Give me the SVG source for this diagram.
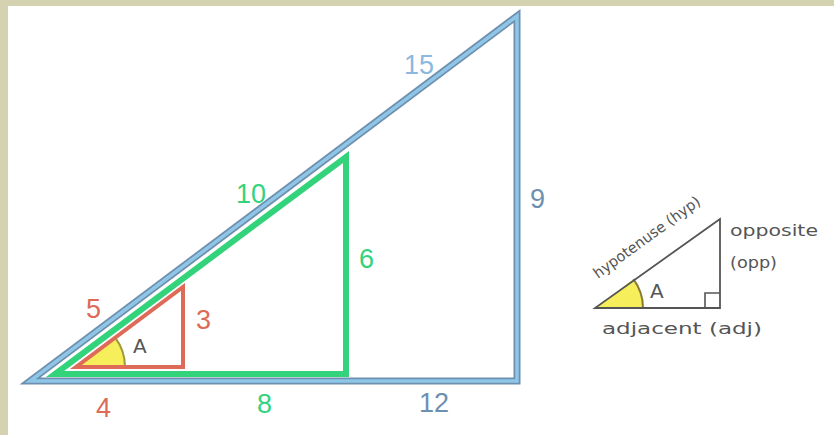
<svg xmlns="http://www.w3.org/2000/svg" width="834" height="435" viewBox="0 0 834 435">
<style>
.num{font-family:"Liberation Sans","DejaVu Sans",sans-serif;font-size:27px}
.lbl{font-family:"DejaVu Sans","Liberation Sans",sans-serif;fill:#555}
.red{fill:#de6a58}.grn{fill:#33d37c}.blu{fill:#8ab8de}.bl2{fill:#6d8fb0}
</style>
<rect x="0" y="0" width="834" height="435" fill="#ffffff"/>
<rect x="0" y="0" width="834" height="6" fill="#d4d2b0"/>
<rect x="0" y="0" width="8" height="435" fill="#d4d2b0"/>
<g id="blue-triangle">
<polygon points="30,381 517,381 517,16" fill="none" stroke="#6f8fae" stroke-width="7" stroke-linejoin="miter"/>
<polygon points="30,381 517,381 517,16" fill="none" stroke="#8ec6e8" stroke-width="3.5" stroke-linejoin="miter"/>
</g>
<g id="green-triangle">
<polygon points="55,374 346,374 346,157" fill="none" stroke="#33d37c" stroke-width="6" stroke-linejoin="miter"/>
</g>
<g id="red-triangle">
<path d="M76,367 L125,367 A49,49 0 0 0 115.2,337.6 Z" fill="#f6ee5a"/>
<path d="M125,367 A49,49 0 0 0 115.2,337.6" fill="none" stroke="#9c9a3c" stroke-width="2"/>
<polygon points="76,367 183,367 183,287" fill="none" stroke="#de6a58" stroke-width="4" stroke-linejoin="miter"/>
<text x="133" y="353" class="lbl" font-size="20">A</text>
</g>
<g id="labels">
<text x="86" y="318" class="num red">5</text>
<text x="196" y="329" class="num red">3</text>
<text x="96" y="417" class="num red">4</text>
<text x="236" y="203" class="num grn">10</text>
<text x="359" y="268" class="num grn">6</text>
<text x="257" y="413" class="num grn">8</text>
<text x="404" y="74" class="num blu">15</text>
<text x="530" y="208" class="num bl2">9</text>
<text x="419" y="412" class="num bl2">12</text>
</g>
<g id="small-triangle">
<path d="M595,308 L643,308 A48,48 0 0 0 633.4,279.2 Z" fill="#f6ee5a"/>
<path d="M643,308 A48,48 0 0 0 633.4,279.2" fill="none" stroke="#8a7a3a" stroke-width="2"/>
<polygon points="595,308 720,308 720,219" fill="none" stroke="#555" stroke-width="1.8"/>
<polyline points="705,308 705,293 720,293" fill="none" stroke="#555" stroke-width="1.6"/>
<text x="650" y="298" class="lbl" font-size="20">A</text>
<text x="0" y="0" class="lbl" font-size="15" textLength="128" lengthAdjust="spacingAndGlyphs" transform="translate(598,279) rotate(-36)">hypotenuse (hyp)</text>
<text x="730" y="236" class="lbl" font-size="16" textLength="88" lengthAdjust="spacingAndGlyphs">opposite</text>
<text x="730" y="268" class="lbl" font-size="16" textLength="47" lengthAdjust="spacingAndGlyphs">(opp)</text>
<text x="602" y="334" class="lbl" font-size="16" textLength="160" lengthAdjust="spacingAndGlyphs">adjacent (adj)</text>
</g>
</svg>
